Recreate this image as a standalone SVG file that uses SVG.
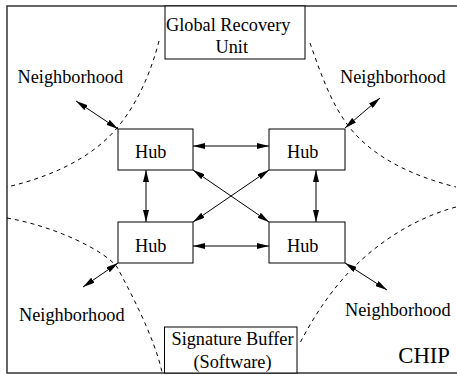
<svg xmlns="http://www.w3.org/2000/svg" width="457" height="375" viewBox="0 0 457 375">
<style>
.t{font-family:"Liberation Serif","Times New Roman",serif;font-size:18.3px;fill:#000}
.box{fill:#fff;stroke:#000;stroke-width:1}
.frame{fill:none;stroke:#333;stroke-width:1.5}
.dash{fill:none;stroke:#000;stroke-width:1;stroke-dasharray:4,4}
.arr{fill:none;stroke:#000;stroke-width:1;marker-start:url(#ah);marker-end:url(#ah)}
</style>
<defs>
<marker id="ah" markerUnits="userSpaceOnUse" markerWidth="12" markerHeight="6" viewBox="0 0 12 6" refX="12" refY="3" orient="auto-start-reverse">
<path d="M0,0 L12,3 L0,6 z" fill="#000"/>
</marker>
</defs>
<rect class="frame" x="7" y="6" width="455" height="367"/>
<g id="regions">
<path class="dash" d="M159,41 C150.7,73 137.5,103.4 117,128 C90,160 47.7,177.5 7,187"/>
<path class="dash" d="M310,43 C320.3,72 330.8,103.8 350,128 C374.8,159.2 417.2,177.4 456,187"/>
<path class="dash" d="M7,218 C56,226.5 105,251 117,267 C133.5,297.8 154.3,338 162,372"/>
<path class="dash" d="M456,207 C417.4,217.4 381.4,239.6 353,268 C331.7,289.3 313.8,316.3 300,343"/>
</g>
<g id="connectors">
<line class="arr" x1="193" y1="146" x2="269" y2="146"/>
<line class="arr" x1="193" y1="246" x2="269" y2="246"/>
<line class="arr" x1="146" y1="170" x2="146" y2="222"/>
<line class="arr" x1="316" y1="170" x2="316" y2="222"/>
<line class="arr" x1="193" y1="170" x2="269" y2="222"/>
<line class="arr" x1="269" y1="170" x2="193" y2="222"/>
<line class="arr" x1="76" y1="101" x2="118" y2="129"/>
<line class="arr" x1="345" y1="128" x2="380" y2="98"/>
<line class="arr" x1="118" y1="263" x2="83" y2="287"/>
<line class="arr" x1="345" y1="263" x2="387" y2="290"/>
</g>
<g id="global-recovery-unit">
<rect class="box" x="165" y="6" width="140" height="53"/>
<text class="t" x="166" y="30.5">Global Recovery</text>
<text class="t" x="215.5" y="53">Unit</text>
</g>
<g id="signature-buffer">
<rect class="box" x="164.5" y="327" width="132.5" height="46"/>
<text class="t" x="232.5" y="345" text-anchor="middle">Signature Buffer</text>
<text class="t" x="232.5" y="367.5" text-anchor="middle">(Software)</text>
</g>
<g id="hub-tl">
<rect class="box" x="118" y="129" width="75" height="41"/>
<text class="t" x="135" y="158">Hub</text>
</g>
<g id="hub-tr">
<rect class="box" x="269" y="129" width="76" height="41"/>
<text class="t" x="287" y="158">Hub</text>
</g>
<g id="hub-bl">
<rect class="box" x="118" y="222" width="75" height="41"/>
<text class="t" x="135" y="252">Hub</text>
</g>
<g id="hub-br">
<rect class="box" x="269" y="222" width="76" height="41"/>
<text class="t" x="287" y="252">Hub</text>
</g>
<g id="labels">
<text class="t" x="17.5" y="82.7">Neighborhood</text>
<text class="t" x="340" y="82.5">Neighborhood</text>
<text class="t" x="19" y="321">Neighborhood</text>
<text class="t" x="345" y="316">Neighborhood</text>
<text class="t" x="398.3" y="363" style="font-size:22.7px">CHIP</text>
</g>
</svg>
